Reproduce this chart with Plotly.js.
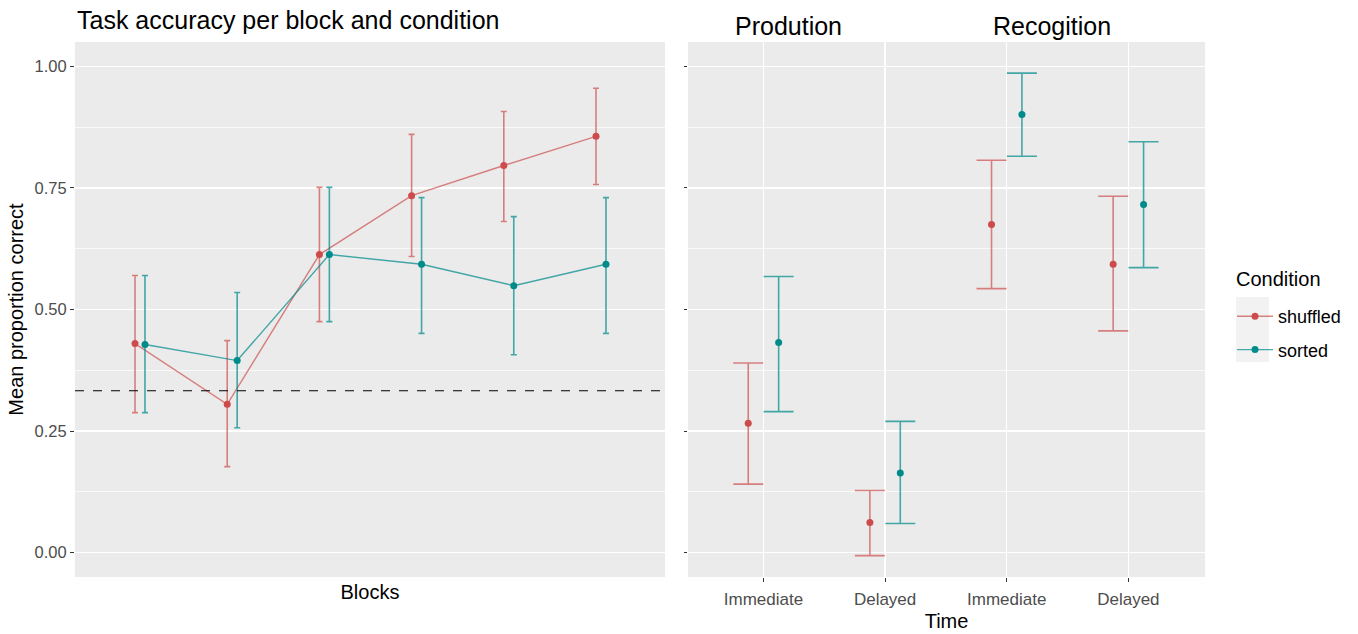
<!DOCTYPE html>
<html>
<head>
<meta charset="utf-8">
<script src="https://cdn.plot.ly/plotly-3.0.1.min.js"></script>
<style>html,body{margin:0;padding:0;background:#fff;}#chart{width:1358px;height:634px;}</style>
</head>
<body>
<div id="chart"></div>
<script>
// ---- Left panel data: accuracy per block ----
var blocks = [1, 2, 3, 4, 5, 6];
var shuffledMean = [0.430, 0.305, 0.613, 0.734, 0.796, 0.856];
var shuffledLo   = [0.288, 0.177, 0.475, 0.609, 0.681, 0.757];
var shuffledHi   = [0.570, 0.436, 0.751, 0.860, 0.907, 0.955];
var sortedMean   = [0.428, 0.395, 0.613, 0.593, 0.549, 0.593];
var sortedLo     = [0.288, 0.257, 0.475, 0.451, 0.407, 0.451];
var sortedHi     = [0.570, 0.535, 0.751, 0.730, 0.691, 0.730];
var chanceLevel  = 0.333;

// ---- Right panel data: test by time ----
var timeLabels = ["Immediate", "Delayed", "Immediate", "Delayed"];
var taskLabels = ["Prodution", "Recogition"];
var testShuffledMean = [0.266, 0.062, 0.675, 0.593];
var testShuffledLo   = [0.141, -0.006, 0.543, 0.456];
var testShuffledHi   = [0.390, 0.128, 0.807, 0.733];
var testSortedMean   = [0.432, 0.164, 0.901, 0.716];
var testSortedLo     = [0.290, 0.060, 0.815, 0.586];
var testSortedHi     = [0.568, 0.270, 0.986, 0.845];

var seriesNames = ["shuffled", "sorted"];
var legendTitle = "Condition";

// ---- styles ----
var redPt = "#CE4B4B", redLn = "rgba(205,80,80,0.7)";
var tealPt = "#008B8B", tealLn = "rgba(0,139,139,0.72)";
var FONT = "Liberation Sans, Arial, sans-serif";
var dodgeL = 0.054, dodgeR = 0.125;

function diff(a, b) { return a.map(function (v, i) { return v - b[i]; }); }
function shift(a, d) { return a.map(function (v) { return v + d; }); }

var tIdx = timeLabels.map(function (_, i) { return i; });

var traces = [
  {
    x: shift(blocks, -dodgeL), y: shuffledMean, name: seriesNames[0], type: "scatter",
    mode: "lines+markers", xaxis: "x", yaxis: "y", legendgroup: "g1",
    line: {color: redLn, width: 1.4}, marker: {color: redPt, size: 7},
    error_y: {type: "data", symmetric: false, array: diff(shuffledHi, shuffledMean),
              arrayminus: diff(shuffledMean, shuffledLo), color: redLn, thickness: 1.6, width: 3}
  },
  {
    x: shift(blocks, dodgeL), y: sortedMean, name: seriesNames[1], type: "scatter",
    mode: "lines+markers", xaxis: "x", yaxis: "y", legendgroup: "g2",
    line: {color: tealLn, width: 1.4}, marker: {color: tealPt, size: 7},
    error_y: {type: "data", symmetric: false, array: diff(sortedHi, sortedMean),
              arrayminus: diff(sortedMean, sortedLo), color: tealLn, thickness: 1.6, width: 3}
  },
  {
    x: shift(tIdx, -dodgeR), y: testShuffledMean, name: seriesNames[0], type: "scatter",
    mode: "markers", xaxis: "x2", yaxis: "y2", showlegend: false,
    marker: {color: redPt, size: 7},
    error_y: {type: "data", symmetric: false, array: diff(testShuffledHi, testShuffledMean),
              arrayminus: diff(testShuffledMean, testShuffledLo), color: redLn, thickness: 1.6, width: 15}
  },
  {
    x: shift(tIdx, dodgeR), y: testSortedMean, name: seriesNames[1], type: "scatter",
    mode: "markers", xaxis: "x2", yaxis: "y2", showlegend: false,
    marker: {color: tealPt, size: 7},
    error_y: {type: "data", symmetric: false, array: diff(testSortedHi, testSortedMean),
              arrayminus: diff(testSortedMean, testSortedLo), color: tealLn, thickness: 1.6, width: 15}
  }
];

var yCommon = {
  range: [-0.05, 1.05], tickvals: [0, 0.25, 0.5, 0.75, 1], zeroline: false,
  showgrid: true, gridcolor: "#FFFFFF", gridwidth: 1.3,
  minor: {tick0: 0.125, dtick: 0.25, showgrid: true, gridcolor: "#FFFFFF", gridwidth: 0.7},
  ticks: "outside", ticklen: 4, tickcolor: "#333333", tickwidth: 1,
  showline: false
};

var layout = {
  width: 1358, height: 634,
  margin: {l: 75, r: 153, t: 42, b: 57},
  paper_bgcolor: "#FFFFFF", plot_bgcolor: "#EBEBEB",
  font: {family: FONT, color: "#000000"},
  title: {text: "Task accuracy per block and condition", x: 77 / 1358, xanchor: "left",
          xref: "container", y: 1 - 20 / 634, yref: "container", yanchor: "middle",
          font: {size: 25, family: FONT, color: "#000"}},
  xaxis: {domain: [0, 0.5221], range: [0.295, 6.694], showgrid: false, zeroline: false,
          showticklabels: false, ticks: "",
          title: {text: "Blocks", font: {size: 20, family: FONT, color: "#000"}, standoff: 7}},
  yaxis: Object.assign({}, yCommon, {
          tickformat: ".2f", tickfont: {size: 16.5, color: "#4D4D4D", family: FONT},
          title: {text: "Mean proportion correct", font: {size: 20, family: FONT, color: "#000"}, standoff: 5}}),
  xaxis2: {domain: [0.5425, 1], range: [-0.62, 3.63], anchor: "y2",
           tickvals: tIdx, ticktext: timeLabels, tickfont: {size: 17, color: "#4D4D4D", family: FONT},
           ticks: "outside", ticklen: 4, tickcolor: "#333333", ticklabelstandoff: 3,
           showgrid: true, gridcolor: "#FFFFFF", gridwidth: 1.3, zeroline: false,
           title: {text: "Time", font: {size: 20, family: FONT, color: "#000"}, standoff: 5}},
  yaxis2: Object.assign({}, yCommon, {anchor: "x2", matches: "y", showticklabels: false, ticklen: 3}),
  legend: {x: 1.0239, xanchor: "left", y: (577 - 298) / 535, yanchor: "top", bgcolor: "rgba(0,0,0,0)",
           font: {size: 18, family: FONT, color: "#000"}, itemwidth: 36, tracegroupgap: 7},
  shapes: [
    {type: "line", xref: "x domain", yref: "y", x0: 0, x1: 1, y0: chanceLevel, y1: chanceLevel,
     line: {color: "#000000", width: 1.1, dash: "dash"}},
    {type: "rect", xref: "paper", yref: "paper", x0: (1236 - 75) / 1130, x1: (1269 - 75) / 1130,
     y0: (577 - 362) / 535, y1: (577 - 297) / 535,
     fillcolor: "#F2F2F2", line: {width: 0}, layer: "below"}
  ],
  annotations: [
    {text: taskLabels[0], xref: "paper", yref: "paper", x: (788 - 75) / 1130, y: (577 - 26) / 535,
     xanchor: "center", yanchor: "middle", showarrow: false, font: {size: 25, family: FONT, color: "#000"}},
    {text: taskLabels[1], xref: "paper", yref: "paper", x: (1052 - 75) / 1130, y: (577 - 26) / 535,
     xanchor: "center", yanchor: "middle", showarrow: false, font: {size: 25, family: FONT, color: "#000"}},
    {text: legendTitle, xref: "paper", yref: "paper", x: (1234 - 75) / 1130, y: (577 - 279) / 535,
     xanchor: "left", yanchor: "middle", showarrow: false, font: {size: 20, family: FONT, color: "#000"}}
  ]
};

Plotly.newPlot("chart", traces, layout, {displayModeBar: false, staticPlot: true});
</script>
</body>
</html>
